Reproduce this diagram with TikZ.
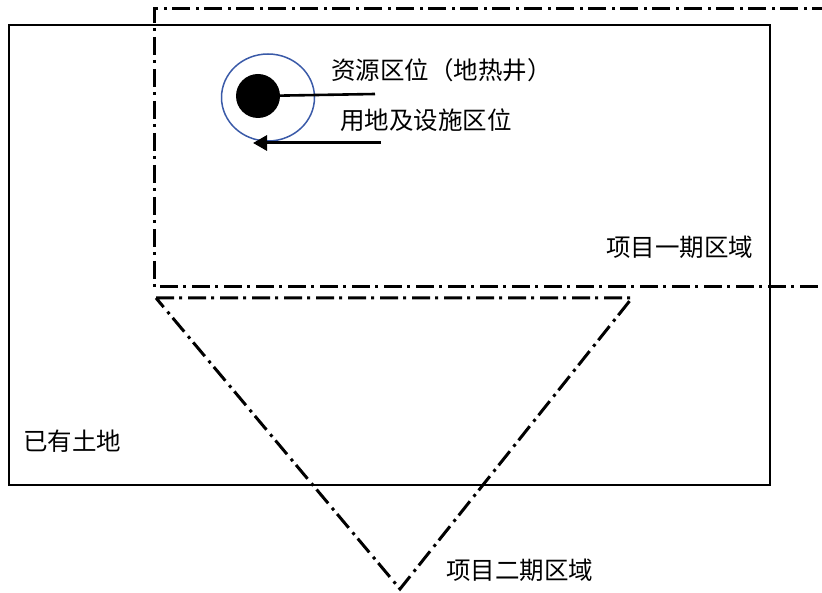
\documentclass[tikz,border=0pt]{standalone}
\usepackage{fontspec}
\newfontfamily\cjk{Noto Sans CJK SC}
\usetikzlibrary{arrows.meta,shapes.geometric}
\definecolor{ringblue}{RGB}{58,90,168}
\begin{document}
\begin{tikzpicture}[x=1pt,y=-1pt,
  dashdot/.style={line width=3pt,dash pattern=on 18pt off 5pt on 3pt off 6pt},
  lbl/.style={font=\cjk\fontsize{24.5}{24.5}\selectfont,anchor=west,inner sep=0pt}]
\useasboundingbox (0,0) rectangle (822,593);
% existing land
\draw[line width=2pt] (9,25) rectangle (770,485);
% phase 1 region
\draw[dashdot] (830,9) -- (154,9) -- (154,287) -- (830,287);
% phase 2 region
\draw[dashdot] (156,298) -- (632,298) -- (400,589) -- cycle;
% resource ellipse
\node[draw=ringblue,line width=1.5pt,ellipse,minimum width=93pt,minimum height=87pt,inner sep=0pt] (ell) at (268,97.5) {};
\node[circle,fill=black,minimum size=44pt,inner sep=0pt] (well) at (258,96) {};
\coordinate (l1e) at (375,94);
\draw[line width=2.6pt] (well.center) -- (l1e);
\coordinate (a2s) at (381,143);
\coordinate (a2e) at (253,143);
\draw[line width=3pt,-{Triangle[length=14pt,width=15pt]}] (a2s) -- (a2e);
% labels
\node[lbl] (t1) at (331,70) {资源区位（地热井）};
\node[lbl] (t2) at (340,120) {用地及设施区位};
\node[lbl] (t3) at (606,247) {项目一期区域};
\node[lbl] (t4) at (23,441) {已有土地};
\node[lbl] (t5) at (446,570) {项目二期区域};
\end{tikzpicture}
\end{document}
